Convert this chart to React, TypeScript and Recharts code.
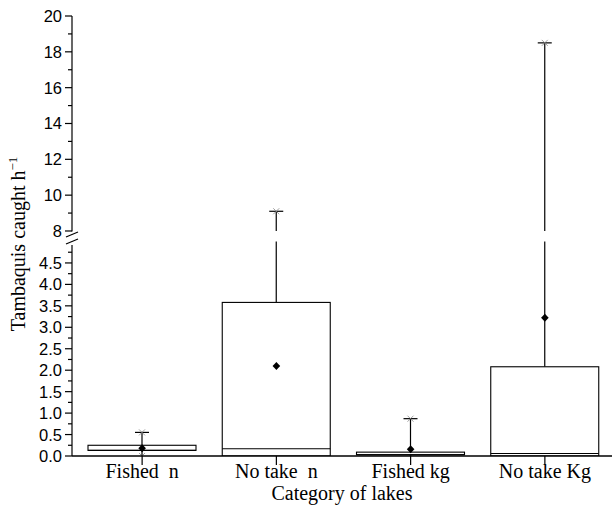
import { ComposedChart, Bar, Scatter, XAxis, YAxis, Label } from 'recharts'

// lake categories and box-plot stats (catch per hour)
const categories = ['Fished  n', 'No take  n', 'Fished kg', 'No take Kg']
const minVals = [0, 0, 0, 0]
const q1Vals = [0.13, 0, 0.03, 0]
const medianVals = [0.13, 0.17, 0.03, 0.06]
const q3Vals = [0.25, 3.58, 0.09, 2.08]
const maxVals = [0.55, 9.1, 0.87, 18.5]
const meanVals = [0.18, 2.1, 0.16, 3.22]

// y axis ticks, both sides of the break
const lowerMajor = [0, 0.5, 1, 1.5, 2, 2.5, 3, 3.5, 4, 4.5]
const lowerMinor = [0.25, 0.75, 1.25, 1.75, 2.25, 2.75, 3.25, 3.75, 4.25, 4.75]
const upperMajor = [8, 10, 12, 14, 16, 18, 20]
const upperMinor = [9, 11, 13, 15, 17, 19]

// broken axis: 0..5 drawn 1:1, 8..20 compressed above a small gap
const LOW_MAX = 5
const UP_MIN = 8
const UP_MAX = 20
const UP_START = 5.245
const UP_K = 0.4176
const T_MAX = UP_START + (UP_MAX - UP_MIN) * UP_K

const tf = (v: number) => (v <= LOW_MAX ? v : v >= UP_MIN ? UP_START + (v - UP_MIN) * UP_K : LOW_MAX)

const W = 612
const H = 521
const TOP = 16
const X_AXIS_H = 65
const Y_AXIS_W = 72
const PX_PER_T = (H - TOP - X_AXIS_H) / T_MAX

const rows = categories.map((name, i) => ({
  name,
  min: minVals[i],
  q1: q1Vals[i],
  median: medianVals[i],
  q3: q3Vals[i],
  max: maxVals[i],
  meanT: tf(meanVals[i]),
}))

type TickInfo = { t: number; label: string; major: boolean; brk?: boolean }
const tickInfo: TickInfo[] = [
  ...lowerMajor.map((v) => ({ t: tf(v), label: v.toFixed(1), major: true })),
  ...lowerMinor.map((v) => ({ t: tf(v), label: '', major: false })),
  ...upperMajor.map((v) => ({ t: tf(v), label: String(v), major: true, brk: v === UP_MIN })),
  ...upperMinor.map((v) => ({ t: tf(v), label: '', major: false })),
]

function YTick(props: any) {
  const { x, y, payload } = props
  const info = tickInfo.find((d) => Math.abs(d.t - payload.value) < 1e-6)
  if (!info) return null
  const gap = (UP_START - 4.93) * PX_PER_T
  return (
    <g>
      {info.brk && (
        <g>
          <rect x={x - 2} y={y + 0.5} width={4} height={gap} fill="#fff" />
          <line x1={x - 6} y1={y + 6} x2={x + 6} y2={y + 1} stroke="#000" strokeWidth={1.2} />
          <line x1={x - 6} y1={y + 13} x2={x + 6} y2={y + 8} stroke="#000" strokeWidth={1.2} />
        </g>
      )}
      <line x1={x - (info.major ? 7 : 4)} y1={y} x2={x} y2={y} stroke="#000" strokeWidth={1.2} />
      {info.label && (
        <text
          x={x - 10}
          y={y}
          textAnchor="end"
          dominantBaseline="central"
          fontFamily="Liberation Sans, Arial, sans-serif"
          fontSize={16.5}
          fill="#000"
        >
          {info.label}
        </text>
      )}
    </g>
  )
}

function XTick(props: any) {
  const { x, y, payload } = props
  return (
    <text
      x={x}
      y={y + 13}
      textAnchor="middle"
      fontFamily="Liberation Serif, Times New Roman, serif"
      fontSize={20}
      fill="#000"
      style={{ whiteSpace: 'pre' }}
    >
      {payload.value}
    </text>
  )
}

function Cross({ cx, cy }: { cx: number; cy: number }) {
  return (
    <g stroke="#888" strokeWidth={0.8}>
      <line x1={cx - 3} y1={cy - 3} x2={cx + 3} y2={cy + 3} />
      <line x1={cx - 3} y1={cy + 3} x2={cx + 3} y2={cy - 3} />
    </g>
  )
}

function BoxShape(props: any) {
  const { x, y, width, height, payload } = props
  const yTop = Math.min(y, y + height)
  const yBot = Math.max(y, y + height)
  const t0 = tf(payload.min)
  const t1 = tf(payload.max)
  const py = (t: number) => yBot - ((t - t0) * (yBot - yTop)) / (t1 - t0)
  const cx = x + width / 2
  const bTop = py(tf(payload.q3))
  const bBot = py(tf(payload.q1))
  const yMax = py(t1)
  const yMin = py(t0)
  const broken = payload.max > LOW_MAX
  return (
    <g>
      {broken ? (
        <g stroke="#000" strokeWidth={1.2}>
          <line x1={cx} y1={bTop} x2={cx} y2={py(LOW_MAX)} />
          <line x1={cx} y1={py(UP_START)} x2={cx} y2={yMax} />
        </g>
      ) : (
        <line x1={cx} y1={bTop} x2={cx} y2={yMax} stroke="#000" strokeWidth={1.2} />
      )}
      <line x1={cx} y1={bBot} x2={cx} y2={yMin} stroke="#000" strokeWidth={1.2} />
      <line x1={cx - 7} y1={yMax} x2={cx + 7} y2={yMax} stroke="#000" strokeWidth={1.2} />
      <Cross cx={cx} cy={yMax} />
      <Cross cx={cx} cy={yMin} />
      <rect x={x} y={bTop} width={width} height={Math.max(bBot - bTop, 0.5)} fill="#fff" stroke="#000" strokeWidth={1.1} />
      <line x1={x} y1={py(tf(payload.median))} x2={x + width} y2={py(tf(payload.median))} stroke="#000" strokeWidth={1.1} />
    </g>
  )
}

function Diamond(props: any) {
  const { cx, cy } = props
  return <path d={`M${cx},${cy - 4}L${cx + 3.8},${cy}L${cx},${cy + 4}L${cx - 3.8},${cy}Z`} fill="#000" />
}

function YLabel(props: any) {
  const vb = props.viewBox
  const cy = vb.y + vb.height / 2 + 8
  const cx = 25
  return (
    <text
      x={cx}
      y={cy}
      transform={`rotate(-90 ${cx} ${cy})`}
      textAnchor="middle"
      fontFamily="Liberation Serif, Times New Roman, serif"
      fontSize={20}
      fill="#000"
    >
      Tambaquis caught h
      <tspan dy={-8} fontSize={13}>
        −1
      </tspan>
    </text>
  )
}

function XLabel(props: any) {
  const vb = props.viewBox
  return (
    <text
      x={vb.x + vb.width / 2}
      y={500}
      textAnchor="middle"
      fontFamily="Liberation Serif, Times New Roman, serif"
      fontSize={20}
      fill="#000"
    >
      Category of lakes
    </text>
  )
}

export default function App() {
  return (
    <div style={{ position: 'absolute', left: 0, top: 0, width: W, height: H, background: '#fff' }}>
      <ComposedChart width={W} height={H} data={rows} margin={{ top: TOP, right: 0, bottom: 0, left: 0 }}>
        <XAxis
          dataKey="name"
          height={X_AXIS_H}
          padding={{ left: 3, right: 0 }}
          axisLine={{ stroke: '#000', strokeWidth: 1.5 }}
          tickLine={{ stroke: '#000', strokeWidth: 1.2 }}
          tickSize={9}
          tickMargin={0}
          tick={<XTick />}
          interval={0}
        >
          <Label content={<XLabel />} />
        </XAxis>
        <YAxis
          type="number"
          width={Y_AXIS_W}
          domain={[0, T_MAX]}
          allowDataOverflow
          ticks={tickInfo.map((d) => d.t)}
          interval={0}
          axisLine={{ stroke: '#000', strokeWidth: 1.2 }}
          tickLine={false}
          tickSize={0}
          tickMargin={0}
          tick={<YTick />}
        >
          <Label content={<YLabel />} />
        </YAxis>
        <Bar
          dataKey={(d: any) => [tf(d.min), tf(d.max)]}
          barSize={108}
          shape={<BoxShape />}
          isAnimationActive={false}
        />
        <Scatter dataKey="meanT" shape={<Diamond />} isAnimationActive={false} />
      </ComposedChart>
    </div>
  )
}
